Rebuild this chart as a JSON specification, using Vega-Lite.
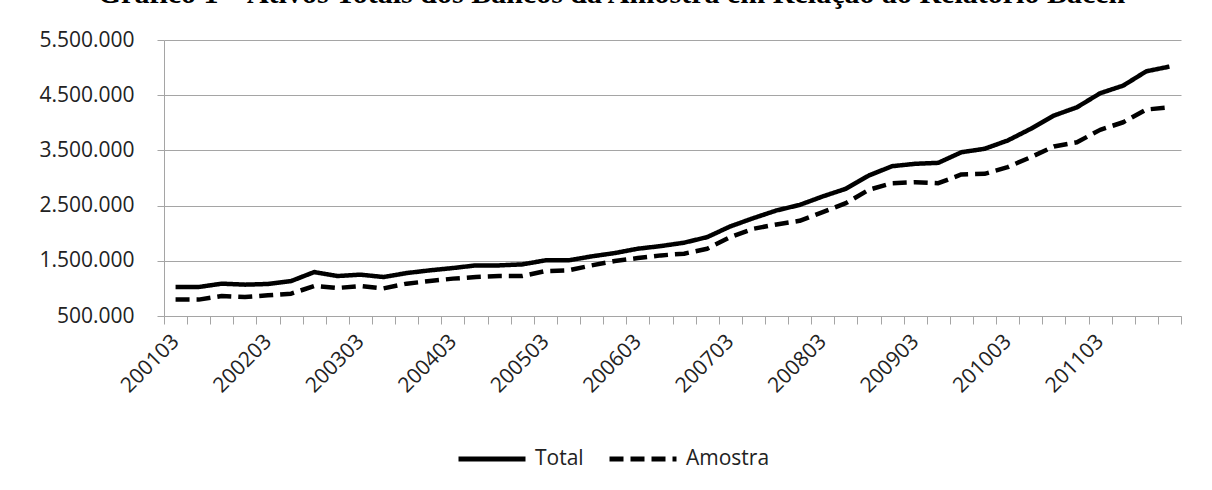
{
  "$schema": "https://vega.github.io/schema/vega-lite/v6.json",
  "width": 1017,
  "height": 276,
  "autosize": "none",
  "padding": {"left": 164, "top": 40, "right": 31, "bottom": 174},
  "background": "white",
  "title": {
    "text": "Gráfico 1 – Ativos Totais dos Bancos da Amostra em Relação ao Relatório Bacen",
    "font": "Liberation Serif",
    "fontSize": 30,
    "fontWeight": "bold",
    "color": "#000000",
    "anchor": "middle",
    "baseline": "alphabetic",
    "offset": 0,
    "dx": -61,
    "dy": 4
  },
  "data": {
    "values": [
      {"q": "200103", "serie": "Total", "v": 1025000},
      {"q": "200106", "serie": "Total", "v": 1025000},
      {"q": "200109", "serie": "Total", "v": 1086000},
      {"q": "200112", "serie": "Total", "v": 1068000},
      {"q": "200203", "serie": "Total", "v": 1080000},
      {"q": "200206", "serie": "Total", "v": 1133000},
      {"q": "200209", "serie": "Total", "v": 1296000},
      {"q": "200212", "serie": "Total", "v": 1224000},
      {"q": "200303", "serie": "Total", "v": 1249000},
      {"q": "200306", "serie": "Total", "v": 1206000},
      {"q": "200309", "serie": "Total", "v": 1278000},
      {"q": "200312", "serie": "Total", "v": 1327000},
      {"q": "200403", "serie": "Total", "v": 1369000},
      {"q": "200406", "serie": "Total", "v": 1417000},
      {"q": "200409", "serie": "Total", "v": 1417000},
      {"q": "200412", "serie": "Total", "v": 1435000},
      {"q": "200503", "serie": "Total", "v": 1508000},
      {"q": "200506", "serie": "Total", "v": 1508000},
      {"q": "200509", "serie": "Total", "v": 1580000},
      {"q": "200512", "serie": "Total", "v": 1640000},
      {"q": "200603", "serie": "Total", "v": 1719000},
      {"q": "200606", "serie": "Total", "v": 1767000},
      {"q": "200609", "serie": "Total", "v": 1828000},
      {"q": "200612", "serie": "Total", "v": 1929000},
      {"q": "200703", "serie": "Total", "v": 2123000},
      {"q": "200706", "serie": "Total", "v": 2273000},
      {"q": "200709", "serie": "Total", "v": 2412000},
      {"q": "200712", "serie": "Total", "v": 2512000},
      {"q": "200803", "serie": "Total", "v": 2666000},
      {"q": "200806", "serie": "Total", "v": 2805000},
      {"q": "200809", "serie": "Total", "v": 3046000},
      {"q": "200812", "serie": "Total", "v": 3214000},
      {"q": "200903", "serie": "Total", "v": 3257000},
      {"q": "200906", "serie": "Total", "v": 3275000},
      {"q": "200909", "serie": "Total", "v": 3467000},
      {"q": "200912", "serie": "Total", "v": 3529000},
      {"q": "201003", "serie": "Total", "v": 3679000},
      {"q": "201006", "serie": "Total", "v": 3891000},
      {"q": "201009", "serie": "Total", "v": 4131000},
      {"q": "201012", "serie": "Total", "v": 4281000},
      {"q": "201103", "serie": "Total", "v": 4535000},
      {"q": "201106", "serie": "Total", "v": 4674000},
      {"q": "201109", "serie": "Total", "v": 4933000},
      {"q": "201112", "serie": "Total", "v": 5018000},
      {"q": "200103", "serie": "Amostra", "v": 797000},
      {"q": "200106", "serie": "Amostra", "v": 797000},
      {"q": "200109", "serie": "Amostra", "v": 862000},
      {"q": "200112", "serie": "Amostra", "v": 844000},
      {"q": "200203", "serie": "Amostra", "v": 875000},
      {"q": "200206", "serie": "Amostra", "v": 905000},
      {"q": "200209", "serie": "Amostra", "v": 1043000},
      {"q": "200212", "serie": "Amostra", "v": 1007000},
      {"q": "200303", "serie": "Amostra", "v": 1043000},
      {"q": "200306", "serie": "Amostra", "v": 1000000},
      {"q": "200309", "serie": "Amostra", "v": 1086000},
      {"q": "200312", "serie": "Amostra", "v": 1133000},
      {"q": "200403", "serie": "Amostra", "v": 1177000},
      {"q": "200406", "serie": "Amostra", "v": 1206000},
      {"q": "200409", "serie": "Amostra", "v": 1224000},
      {"q": "200412", "serie": "Amostra", "v": 1224000},
      {"q": "200503", "serie": "Amostra", "v": 1314000},
      {"q": "200506", "serie": "Amostra", "v": 1327000},
      {"q": "200509", "serie": "Amostra", "v": 1417000},
      {"q": "200512", "serie": "Amostra", "v": 1495000},
      {"q": "200603", "serie": "Amostra", "v": 1549000},
      {"q": "200606", "serie": "Amostra", "v": 1598000},
      {"q": "200609", "serie": "Amostra", "v": 1629000},
      {"q": "200612", "serie": "Amostra", "v": 1719000},
      {"q": "200703", "serie": "Amostra", "v": 1929000},
      {"q": "200706", "serie": "Amostra", "v": 2081000},
      {"q": "200709", "serie": "Amostra", "v": 2159000},
      {"q": "200712", "serie": "Amostra", "v": 2225000},
      {"q": "200803", "serie": "Amostra", "v": 2382000},
      {"q": "200806", "serie": "Amostra", "v": 2545000},
      {"q": "200809", "serie": "Amostra", "v": 2787000},
      {"q": "200812", "serie": "Amostra", "v": 2906000},
      {"q": "200903", "serie": "Amostra", "v": 2924000},
      {"q": "200906", "serie": "Amostra", "v": 2906000},
      {"q": "200909", "serie": "Amostra", "v": 3064000},
      {"q": "200912", "serie": "Amostra", "v": 3076000},
      {"q": "201003", "serie": "Amostra", "v": 3196000},
      {"q": "201006", "serie": "Amostra", "v": 3377000},
      {"q": "201009", "serie": "Amostra", "v": 3571000},
      {"q": "201012", "serie": "Amostra", "v": 3648000},
      {"q": "201103", "serie": "Amostra", "v": 3872000},
      {"q": "201106", "serie": "Amostra", "v": 4010000},
      {"q": "201109", "serie": "Amostra", "v": 4240000},
      {"q": "201112", "serie": "Amostra", "v": 4281000}
    ]
  },
  "mark": {"type": "line", "strokeWidth": 4.5, "color": "#000000", "strokeJoin": "round"},
  "encoding": {
    "x": {
      "field": "q",
      "type": "ordinal",
      "sort": null,
      "bandPosition": 0.5,
      "scale": {"type": "band", "paddingInner": 0, "paddingOuter": 0},
      "axis": {
        "title": null,
        "tickBand": "extent",
        "labelAngle": -45,
        "labelAlign": "right",
        "labelBaseline": "middle",
        "labelFont": "Open Sans",
        "labelFontSize": 21,
        "labelColor": "#222222",
        "labelPadding": 14,
        "labelOverlap": false,
        "labelBound": false,
        "labelFlush": false,
        "labelExpr": "substring(datum.label, 4) == '03' ? datum.label : ''",
        "tickColor": "#a5a5a5",
        "tickSize": 8,
        "domainColor": "#a5a5a5",
        "grid": false
      }
    },
    "y": {
      "field": "v",
      "type": "quantitative",
      "scale": {"domain": [500000, 5500000], "nice": false, "zero": false},
      "axis": {
        "title": null,
        "values": [500000, 1500000, 2500000, 3500000, 4500000, 5500000],
        "labelExpr": "replace(replace(format(datum.value, ','), ',', '.'), ',', '.')",
        "labelFont": "Open Sans",
        "labelFontSize": 21,
        "labelColor": "#222222",
        "labelPadding": 23,
        "labelBound": false,
        "labelFlush": false,
        "tickSize": 7,
        "tickColor": "#a5a5a5",
        "domainColor": "#a5a5a5",
        "grid": true,
        "gridColor": "#a5a5a5"
      }
    },
    "strokeDash": {
      "field": "serie",
      "type": "nominal",
      "scale": {"domain": ["Total", "Amostra"], "range": [[1, 0], [14, 7]]},
      "legend": {
        "orient": "none",
        "legendX": 292,
        "legendY": 383,
        "direction": "horizontal",
        "title": null,
        "symbolType": "stroke",
        "symbolSize": 4489,
        "symbolStrokeWidth": 5,
        "symbolStrokeColor": "#000000",
        "labelFont": "Open Sans",
        "labelFontSize": 21,
        "labelColor": "#222222",
        "labelOffset": 7,
        "columnPadding": 15
      }
    }
  },
  "config": {"view": {"stroke": null}}
}
